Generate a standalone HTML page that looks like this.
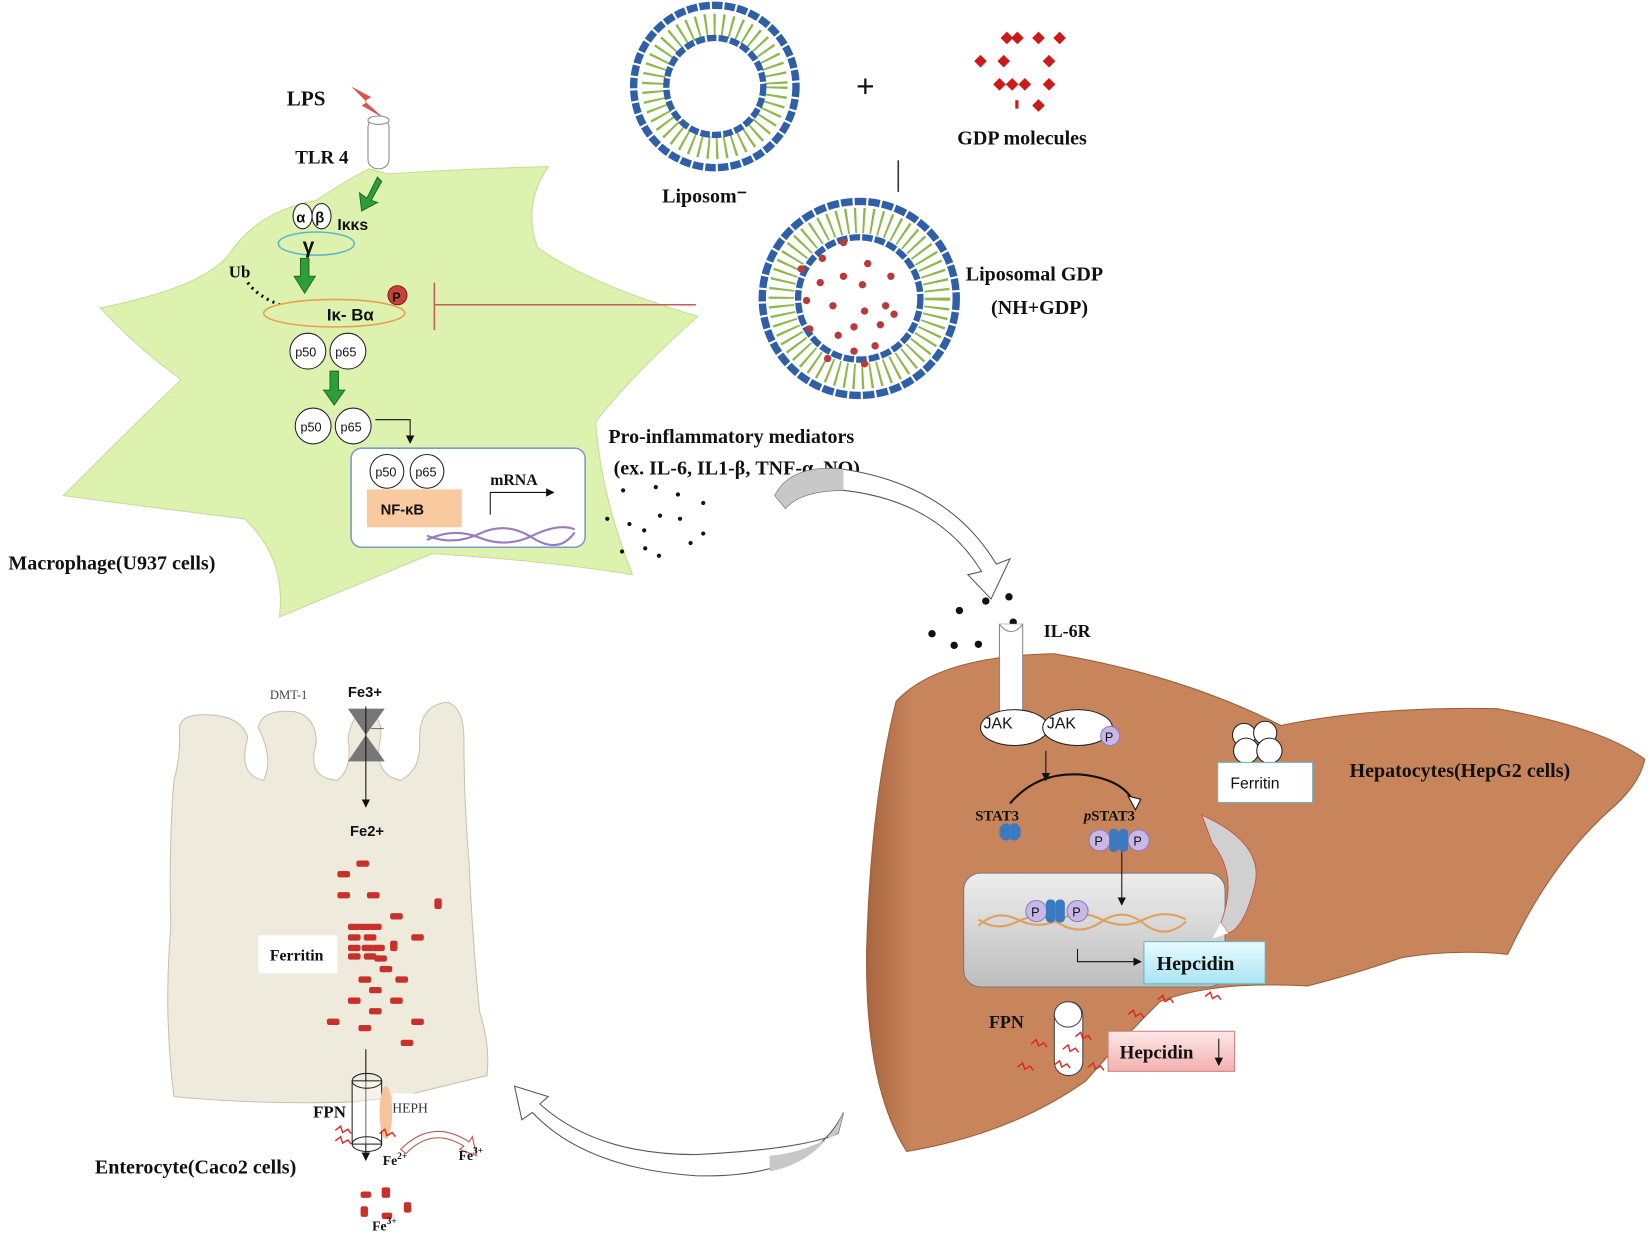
<!DOCTYPE html>
<html><head><meta charset="utf-8"><style>html,body{margin:0;padding:0;background:#fff}svg{display:block}
.s{font-family:"Liberation Serif",serif;font-weight:bold;fill:#111}
.a{font-family:"Liberation Sans",sans-serif;fill:#111}</style></head><body>
<svg width="1650" height="1239" viewBox="0 0 1565 1175" preserveAspectRatio="none" xmlns="http://www.w3.org/2000/svg">
<defs>
<marker id="ah" markerWidth="8" markerHeight="8" refX="7" refY="4" orient="auto"><path d="M0,0 L8,4 L0,8 z" fill="#111"/></marker>
<linearGradient id="lv" x1="0" y1="0" x2="1" y2="0"><stop offset="0" stop-color="#a9653f"/><stop offset="0.06" stop-color="#c8845a"/><stop offset="1" stop-color="#c8845a"/></linearGradient>
</defs>

<!-- Macrophage -->
<path d="M300 190 Q330 170 350 160 L368 165 Q440 160 520 158 Q495 195 510 235 Q560 270 662 300 Q600 355 565 400 Q570 470 600 545 Q520 532 410 525 L265 585 Q272 530 232 492 Q150 482 60 470 Q130 400 172 360 Q130 330 95 292 Q195 272 218 240 Q245 200 300 190 Z" fill="#def2b0" stroke="#c8dc9a" stroke-width="1"/>

<!-- LPS / TLR4 -->
<text class="s" x="272" y="100" font-size="20">LPS</text>
<path d="M333 82 L352 92 L346 96 L364 112 L343 100 L348 97 Z" fill="#d9534f"/>
<rect x="349" y="112" width="20" height="48" rx="9" fill="#fff" stroke="#888"/>
<ellipse cx="359" cy="114" rx="10" ry="4" fill="#fff" stroke="#888"/>
<text class="s" x="280" y="155" font-size="18">TLR 4</text>
<path d="M358 168 L348 188 L341 183 L343 200 L358 192 L352 190 L362 172 Z" fill="#2f9e3a" stroke="#1d6e27"/>
<ellipse cx="287" cy="205" rx="9" ry="12" fill="#fff" stroke="#222"/>
<ellipse cx="305" cy="205" rx="9" ry="12" fill="#fff" stroke="#222"/>
<text class="a" x="281" y="211" font-size="14" font-weight="bold">α</text>
<text class="a" x="299" y="211" font-size="14" font-weight="bold">β</text>
<text class="a" x="320" y="218" font-size="15" font-weight="bold">Iκκs</text>
<ellipse cx="300" cy="231" rx="36" ry="11" fill="#def2b0" stroke="#5fb8c8" stroke-width="1.5"/>
<text class="a" x="287" y="240" font-size="20" font-weight="bold">γ</text>
<path d="M285 245 L293 245 L293 262 L299 262 L289 278 L279 262 L285 262 Z" fill="#2f9e3a" stroke="#1d6e27"/>
<text class="s" x="217" y="263" font-size="16">Ub</text>
<path d="M235 268 Q245 282 268 290" stroke="#111" stroke-width="3" stroke-dasharray="2,4" fill="none"/>
<ellipse cx="317" cy="297" rx="67" ry="13" fill="#def2b0" stroke="#e8a050" stroke-width="1.5"/>
<text class="a" x="310" y="304" font-size="16" font-weight="bold">Iκ- Bα</text>
<circle cx="377" cy="280" r="9" fill="#c8403c" stroke="#7a1f1c"/>
<text class="a" x="372" y="286" font-size="12" font-weight="bold">P</text>
<line x1="412" y1="289" x2="660" y2="289" stroke="#c85a5a" stroke-width="1.5"/>
<line x1="412" y1="268" x2="412" y2="313" stroke="#c85a5a" stroke-width="1.5"/>
<g font-family="Liberation Sans,sans-serif" font-size="12" fill="#111">
<circle cx="292" cy="333" r="17" fill="#fff" stroke="#222"/><circle cx="330" cy="333" r="17" fill="#fff" stroke="#222"/>
<text x="280" y="338">p50</text><text x="318" y="338">p65</text>
<circle cx="297" cy="404" r="17" fill="#fff" stroke="#222"/><circle cx="335" cy="404" r="17" fill="#fff" stroke="#222"/>
<text x="285" y="409">p50</text><text x="323" y="409">p65</text>
</g>
<path d="M313 352 L321 352 L321 370 L327 370 L317 384 L307 370 L313 370 Z" fill="#2f9e3a" stroke="#1d6e27"/>
<path d="M356 398 L389 398 L389 420" stroke="#111" fill="none" marker-end="url(#ah)"/>
<rect x="333" y="425" width="222" height="94" rx="10" fill="#fff" stroke="#7a9ad0" stroke-width="1.5"/>
<g font-family="Liberation Sans,sans-serif" font-size="12" fill="#111">
<circle cx="367" cy="447" r="16" fill="#fff" stroke="#222"/><circle cx="405" cy="447" r="16" fill="#fff" stroke="#222"/>
<text x="356" y="452">p50</text><text x="394" y="452">p65</text></g>
<rect x="348" y="464" width="90" height="36" fill="#f9c9a0"/>
<text class="a" x="361" y="488" font-size="14" font-weight="bold">NF-κB</text>
<text class="s" x="465" y="460" font-size="15">mRNA</text>
<path d="M465 488 L465 467 L525 467" stroke="#111" fill="none" marker-end="url(#ah)"/>
<path d="M405 512 Q430 500 455 510 T505 508 T545 502" stroke="#9a7ac0" stroke-width="2" fill="none"/>
<path d="M405 508 Q430 518 455 506 T505 510 T545 505" stroke="#9a7ac0" stroke-width="2" fill="none"/>
<text class="s" x="8" y="540" font-size="19">Macrophage(U937 cells)</text>

<g fill="#111">
<circle cx="591" cy="465" r="2"/><circle cx="622" cy="462" r="2"/><circle cx="643" cy="469" r="2"/><circle cx="667" cy="477" r="2"/>
<circle cx="576" cy="492" r="2"/><circle cx="597" cy="497" r="2"/><circle cx="611" cy="503" r="2"/><circle cx="626" cy="489" r="2"/><circle cx="645" cy="492" r="2"/><circle cx="667" cy="506" r="2"/>
<circle cx="590" cy="523" r="2"/><circle cx="612" cy="520" r="2"/><circle cx="625" cy="527" r="2"/><circle cx="655" cy="515" r="2"/>
</g>

<!-- Liposome 1 -->
<circle cx="678" cy="82" r="58" fill="none" stroke="#8db84a" stroke-width="22" stroke-dasharray="2,6"/>
<circle cx="678" cy="82" r="77" fill="none" stroke="#2f5fa8" stroke-width="7" stroke-dasharray="10,2"/>
<circle cx="678" cy="82" r="46" fill="none" stroke="#2f5fa8" stroke-width="6" stroke-dasharray="9,2"/>
<text class="a" x="812" y="92" font-size="30">+</text>
<g fill="#cc1a1a">
<path d="M955 30 l6 6 -6 6 -6 -6z"/><path d="M965 30 l6 6 -6 6 -6 -6z"/><path d="M985 30 l6 6 -6 6 -6 -6z"/><path d="M1005 30 l6 6 -6 6 -6 -6z"/>
<path d="M930 52 l6 6 -6 6 -6 -6z"/><path d="M952 52 l6 6 -6 6 -6 -6z"/><path d="M995 52 l6 6 -6 6 -6 -6z"/>
<path d="M948 74 l6 6 -6 6 -6 -6z"/><path d="M960 74 l6 6 -6 6 -6 -6z"/><path d="M972 74 l6 6 -6 6 -6 -6z"/><path d="M995 74 l6 6 -6 6 -6 -6z"/>
<path d="M985 94 l6 6 -6 6 -6 -6z"/><rect x="963" y="95" width="3" height="8"/>
</g>
<text class="s" x="908" y="137" font-size="19">GDP molecules</text>
<text class="s" x="628" y="192" font-size="19">Liposom⁻</text>
<line x1="852" y1="152" x2="852" y2="182" stroke="#333" stroke-width="1.5"/>

<!-- Liposome 2 -->
<circle cx="815" cy="283" r="74" fill="none" stroke="#8db84a" stroke-width="24" stroke-dasharray="2,6"/>
<circle cx="815" cy="283" r="92" fill="none" stroke="#2f5fa8" stroke-width="7" stroke-dasharray="11,2"/>
<circle cx="815" cy="283" r="58" fill="none" stroke="#2f5fa8" stroke-width="6" stroke-dasharray="10,2"/>
<g fill="#b83a3a">
<circle cx="800" cy="230" r="3.5"/><circle cx="780" cy="245" r="3.5"/><circle cx="823" cy="250" r="3.5"/><circle cx="845" cy="262" r="3.5"/><circle cx="760" cy="255" r="3.5"/>
<circle cx="778" cy="268" r="3.5"/><circle cx="800" cy="262" r="3.5"/><circle cx="818" cy="270" r="3.5"/><circle cx="765" cy="285" r="3.5"/><circle cx="790" cy="290" r="3.5"/>
<circle cx="820" cy="295" r="3.5"/><circle cx="848" cy="298" r="3.5"/><circle cx="810" cy="310" r="3.5"/><circle cx="835" cy="308" r="3.5"/><circle cx="768" cy="312" r="3.5"/>
<circle cx="795" cy="318" r="3.5"/><circle cx="810" cy="333" r="3.5"/><circle cx="830" cy="328" r="3.5"/><circle cx="785" cy="340" r="3.5"/><circle cx="820" cy="345" r="3.5"/><circle cx="840" cy="290" r="3.5"/>
</g>
<text class="s" x="916" y="266" font-size="19">Liposomal GDP</text>
<text class="s" x="940" y="298" font-size="19">(NH+GDP)</text>

<text class="s" x="577" y="420" font-size="19">Pro-inflammatory mediators</text>
<text class="s" x="582" y="450" font-size="19">(ex. IL-6, IL1-β, TNF-α, NO)</text>

<!-- big curved arrow top -->
<path d="M735 470 Q750 440 800 445 Q900 460 945 535 L958 530 L940 568 L918 545 L931 542 Q890 475 800 465 Q760 465 745 482 Z" fill="#fff" stroke="#555" stroke-width="1"/>
<path d="M735 470 Q750 440 800 445 L800 465 Q760 465 745 482 Z" fill="#c8c8c8"/>

<!-- Liver -->
<path d="M850 665 Q890 622 1000 620 Q1120 640 1215 688 Q1300 670 1420 672 Q1520 690 1560 720 Q1555 745 1525 770 Q1470 820 1430 905 Q1380 900 1330 908 Q1280 925 1240 935 Q1150 930 1100 950 Q1060 990 1030 1025 Q960 1075 860 1092 Q820 1030 822 900 Q826 760 850 665 Z" fill="url(#lv)" stroke="#9a5e38" stroke-width="1"/>
<g fill="#111"><circle cx="910" cy="579" r="3.5"/><circle cx="935" cy="570" r="3.5"/><circle cx="957" cy="566" r="3.5"/><circle cx="884" cy="601" r="3.5"/><circle cx="905" cy="612" r="3.5"/><circle cx="928" cy="611" r="3.5"/><circle cx="961" cy="590" r="3.5"/></g>
<rect x="948" y="592" width="22" height="86" fill="#fff" stroke="#888"/>
<path d="M948 592 Q959 606 970 592" fill="#fff" stroke="#888"/>
<text class="s" x="990" y="604" font-size="17">IL-6R</text>
<ellipse cx="962" cy="690" rx="32" ry="17" fill="#fff" stroke="#222"/>
<ellipse cx="1022" cy="690" rx="33" ry="17" fill="#fff" stroke="#222"/>
<text class="a" x="933" y="691" font-size="15">JAK</text><text class="a" x="993" y="691" font-size="15">JAK</text>
<circle cx="1053" cy="698" r="9" fill="#c8b8e8" stroke="#8a7ac0"/><text class="a" x="1048" y="703" font-size="12">P</text>
<line x1="992" y1="712" x2="992" y2="740" stroke="#111" marker-end="url(#ah)"/>
<path d="M958 762 Q985 730 1030 735 Q1065 740 1075 760" stroke="#111" stroke-width="2" fill="none"/>
<path d="M1070 755 L1082 758 L1077 768 Z" fill="#fff" stroke="#111"/>
<text class="s" x="925" y="778" font-size="14">STAT3</text>
<text class="s" x="1028" y="778" font-size="14"><tspan font-style="italic">p</tspan>STAT3</text>
<path d="M948 785 l4 -4 h4 l4 4 v8 l-4 4 h-4 l-4 -4z" fill="#3a7ac0"/><path d="M956 785 l4 -4 h4 l4 4 v8 l-4 4 h-4 l-4 -4z" fill="#3a7ac0"/>
<circle cx="1043" cy="797" r="10" fill="#c8b8e8" stroke="#8a7ac0"/><circle cx="1080" cy="797" r="10" fill="#c8b8e8" stroke="#8a7ac0"/>
<rect x="1052" y="786" width="9" height="22" rx="4" fill="#3a7ac0"/><rect x="1061" y="786" width="9" height="22" rx="4" fill="#3a7ac0"/>
<text class="a" x="1038" y="802" font-size="12">P</text><text class="a" x="1075" y="802" font-size="12">P</text>
<circle cx="1180" cy="697" r="11" fill="#fff" stroke="#222"/><circle cx="1200" cy="695" r="11" fill="#fff" stroke="#222"/>
<circle cx="1182" cy="712" r="12" fill="#fff" stroke="#222"/><circle cx="1204" cy="712" r="12" fill="#fff" stroke="#222"/>
<rect x="1155" y="723" width="90" height="38" fill="#fff" stroke="#5fb8c8"/>
<text class="a" x="1167" y="748" font-size="15">Ferritin</text>
<text class="s" x="1280" y="737" font-size="19">Hepatocytes(HepG2 cells)</text>
<defs><linearGradient id="nuc" x1="0" y1="0" x2="0" y2="1"><stop offset="0" stop-color="#eeeeee"/><stop offset="1" stop-color="#bdbdbd"/></linearGradient>
<linearGradient id="hep" x1="0" y1="0" x2="0" y2="1"><stop offset="0" stop-color="#e8fbff"/><stop offset="1" stop-color="#a8e4f2"/></linearGradient>
<linearGradient id="hep2" x1="0" y1="0" x2="0" y2="1"><stop offset="0" stop-color="#fde8e8"/><stop offset="1" stop-color="#f3b0b0"/></linearGradient></defs>
<rect x="914" y="828" width="248" height="108" rx="16" fill="url(#nuc)" stroke="#777"/>
<line x1="1064" y1="808" x2="1064" y2="858" stroke="#111" marker-end="url(#ah)"/>
<path d="M928 878 Q945 862 965 872 T1005 872 T1045 872 T1085 872 T1125 872" stroke="#e0a060" stroke-width="2" fill="none"/>
<path d="M928 872 Q945 884 965 874 T1005 876 T1045 874 T1085 876 T1125 874" stroke="#e0a060" stroke-width="2" fill="none"/>
<circle cx="983" cy="864" r="10" fill="#c8b8e8" stroke="#8a7ac0"/><circle cx="1022" cy="864" r="10" fill="#c8b8e8" stroke="#8a7ac0"/>
<rect x="992" y="853" width="9" height="22" rx="4" fill="#3a7ac0"/><rect x="1001" y="853" width="9" height="22" rx="4" fill="#3a7ac0"/>
<text class="a" x="978" y="869" font-size="12">P</text><text class="a" x="1017" y="869" font-size="12">P</text>
<path d="M1022 900 L1022 912 L1082 912" stroke="#111" fill="none" marker-end="url(#ah)"/>
<rect x="1085" y="893" width="115" height="40" fill="url(#hep)" stroke="#5fb8c8"/>
<text class="s" x="1097" y="920" font-size="19">Hepcidin</text>
<path d="M1140 773 Q1200 800 1190 840 Q1180 880 1165 885 L1158 875 Q1175 830 1150 800 Z" fill="#d0d0d0" stroke="#c05050" stroke-width="0.8"/>
<path d="M1165 885 L1158 875 L1150 890 Z" fill="#fff"/>
<text class="s" x="938" y="975" font-size="17">FPN</text>
<rect x="1000" y="950" width="27" height="70" rx="13" fill="#fff" stroke="#444"/>
<ellipse cx="1013" cy="962" rx="13" ry="12" fill="#fff" stroke="#444"/>
<rect x="1051" y="978" width="120" height="38" fill="url(#hep2)" stroke="#d08080"/>
<text class="s" x="1062" y="1004" font-size="18">Hepcidin</text>
<line x1="1156" y1="985" x2="1156" y2="1010" stroke="#111" marker-end="url(#ah)"/>
<g stroke="#e02020" stroke-width="1.3" fill="none">
<path d="M1070 962 l5 -4 l2 6 l5 -3 l3 4"/><path d="M1098 948 l5 -4 l2 6 l5 -3 l3 4"/><path d="M1143 945 l5 -4 l2 6 l5 -3 l3 4"/>
<path d="M978 990 l5 -4 l2 6 l5 -3 l3 4"/><path d="M1008 995 l5 -4 l2 6 l5 -3 l3 4"/><path d="M1020 983 l5 -4 l2 6 l5 -3 l3 4"/>
<path d="M965 1012 l5 -4 l2 6 l5 -3 l3 4"/><path d="M1000 1010 l5 -4 l2 6 l5 -3 l3 4"/><path d="M1032 1012 l5 -4 l2 6 l5 -3 l3 4"/>
</g>

<!-- bottom curved arrow -->
<path d="M800 1055 Q770 1118 660 1115 Q555 1108 505 1055 L495 1062 L488 1030 L520 1040 L512 1047 Q565 1095 660 1095 Q760 1090 795 1075 Z" fill="#fff" stroke="#555"/>
<path d="M800 1055 L795 1075 Q760 1094 730 1096 L730 1111 Q778 1102 800 1055 Z" fill="#c8c8c8"/>

<!-- Enterocyte -->
<path d="M170 690 Q172 676 200 678 Q230 680 235 700 Q225 735 250 740 Q260 720 245 690 Q248 672 280 675 Q300 680 300 705 Q290 738 320 740 Q335 728 330 700 Q335 672 350 678 Q365 680 360 705 Q355 735 380 740 Q400 730 398 700 Q398 668 425 666 Q440 672 440 700 Q440 760 445 820 Q448 890 455 960 Q465 990 462 1020 Q420 1030 380 1040 L335 1045 Q250 1048 165 1040 Q155 960 162 880 Q160 800 165 740 Q172 715 170 690 Z" fill="#efebdc" stroke="#c8c2ae"/>
<text x="256" y="663" font-family="Liberation Serif,serif" font-size="12" fill="#444">DMT-1</text>
<text class="a" x="330" y="661" font-size="14" font-weight="bold">Fe3+</text>
<path d="M330 672 L365 672 L347 697 L365 722 L330 722 L347 697 Z" fill="#777"/>
<line x1="347" y1="670" x2="347" y2="765" stroke="#111" marker-end="url(#ah)"/>
<line x1="352" y1="691" x2="364" y2="691" stroke="#555" stroke-width="0.8"/>
<text class="a" x="332" y="793" font-size="14" font-weight="bold">Fe2+</text>
<g fill="#c8302c">
<rect x="338" y="816" width="12" height="6" rx="2"/><rect x="320" y="826" width="12" height="6" rx="2"/><rect x="320" y="846" width="12" height="6" rx="2"/><rect x="348" y="846" width="12" height="6" rx="2"/><rect x="412" y="852" width="7" height="10" rx="2"/>
<rect x="370" y="866" width="12" height="6" rx="2"/><rect x="330" y="876" width="12" height="6" rx="2"/><rect x="340" y="876" width="12" height="6" rx="2"/><rect x="350" y="876" width="12" height="6" rx="2"/>
<rect x="330" y="886" width="12" height="6" rx="2"/><rect x="345" y="886" width="12" height="6" rx="2"/><rect x="390" y="886" width="12" height="6" rx="2"/>
<rect x="330" y="896" width="12" height="6" rx="2"/><rect x="343" y="896" width="12" height="6" rx="2"/><rect x="353" y="896" width="12" height="6" rx="2"/><rect x="370" y="892" width="7" height="10" rx="2"/>
<rect x="330" y="904" width="12" height="6" rx="2"/><rect x="345" y="904" width="12" height="6" rx="2"/><rect x="355" y="906" width="12" height="6" rx="2"/>
<rect x="360" y="916" width="12" height="6" rx="2"/><rect x="340" y="926" width="12" height="6" rx="2"/><rect x="375" y="926" width="12" height="6" rx="2"/><rect x="350" y="936" width="12" height="6" rx="2"/>
<rect x="330" y="946" width="12" height="6" rx="2"/><rect x="370" y="946" width="12" height="6" rx="2"/><rect x="350" y="956" width="12" height="6" rx="2"/>
<rect x="310" y="966" width="12" height="6" rx="2"/><rect x="340" y="972" width="12" height="6" rx="2"/><rect x="390" y="966" width="12" height="6" rx="2"/><rect x="380" y="986" width="12" height="6" rx="2"/>
<rect x="342" y="1130" width="10" height="6" rx="2"/><rect x="362" y="1126" width="8" height="10" rx="2"/><rect x="383" y="1140" width="7" height="10" rx="2"/><rect x="342" y="1144" width="7" height="10" rx="2"/><rect x="362" y="1150" width="10" height="6" rx="2"/>
</g>
<rect x="245" y="887" width="75" height="36" fill="#fff"/>
<text class="s" x="256" y="911" font-size="15" font-weight="normal">Ferritin</text>
<line x1="347" y1="995" x2="347" y2="1100" stroke="#111" marker-end="url(#ah)"/>
<rect x="334" y="1025" width="28" height="60" fill="#fff" fill-opacity="0.4" stroke="#222"/>
<ellipse cx="348" cy="1025" rx="14" ry="7" fill="none" stroke="#222"/>
<ellipse cx="348" cy="1085" rx="14" ry="7" fill="none" stroke="#222"/>
<ellipse cx="366" cy="1055" rx="6" ry="25" fill="#f5c49a"/>
<rect x="372" y="1037" width="48" height="25" fill="#fff"/>
<text x="372" y="1055" font-family="Liberation Serif,serif" font-size="13" fill="#333">HEPH</text>
<text class="s" x="297" y="1060" font-size="16">FPN</text>
<path d="M380 1090 Q410 1060 445 1083 L448 1078 L452 1096 L436 1090 L440 1087 Q410 1068 385 1094 Z" fill="#fff" stroke="#c05050"/>
<g stroke="#e02020" stroke-width="1.3" fill="none">
<path d="M318 1072 l5 -4 l2 6 l5 -3 l3 4"/><path d="M318 1082 l5 -4 l2 6 l5 -3 l3 4"/><path d="M360 1075 l5 -4 l2 6 l5 -3 l3 4"/>
</g>
<text class="s" x="90" y="1113" font-size="19">Enterocyte(Caco2 cells)</text>
<text class="s" x="363" y="1105" font-size="13">Fe<tspan font-size="9" dy="-6">2+</tspan></text>
<text class="s" x="435" y="1100" font-size="13">Fe<tspan font-size="9" dy="-6">3+</tspan></text>
<text class="s" x="353" y="1167" font-size="13">Fe<tspan font-size="9" dy="-6">3+</tspan></text>
</svg>
</body></html>
